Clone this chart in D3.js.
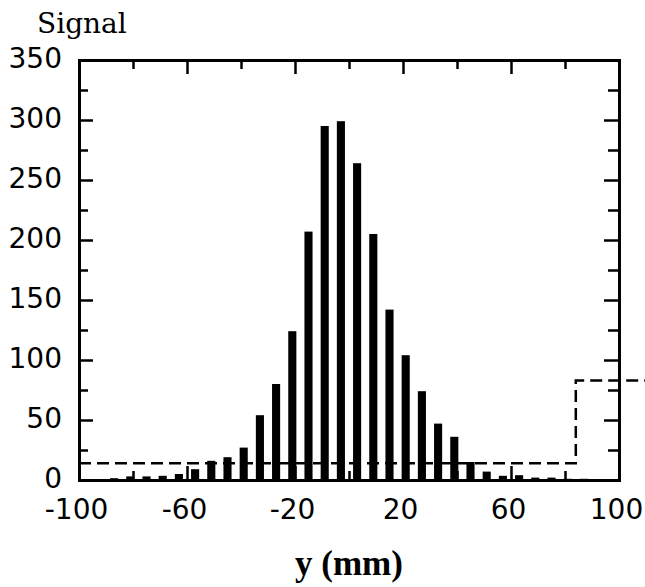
<!DOCTYPE html>
<html>
<head>
<meta charset="utf-8">
<script src="https://cdn.jsdelivr.net/npm/d3@7"></script>
<style>
  body { margin: 0; background: #fff; }
  svg { display: block; }
</style>
</head>
<body>
<div id="chart"></div>
<script>
/* DATA */
const binCenters = [-87, -81, -75, -69, -63, -57, -51, -45, -39, -33, -27, -21, -15, -9, -3,
  3, 9, 15, 21, 27, 33, 39, 45, 51, 57, 63, 69, 75, 81, 87];
const signalCounts = [1.5, 3, 3, 3.5, 5, 9, 16, 19, 27, 54, 80, 124, 207, 295, 299,
  264, 205, 142, 104, 74, 47, 36, 15, 7, 3.5, 4, 2, 2, 1, 1];
// dashed step outline
const stepX = [-100, 84, 84, 110];
const stepY = [14, 14, 83, 83];

const xMajorTicks = [-100, -60, -20, 20, 60, 100];
const xMinorTicks = [-80, -40, 0, 40, 80];
const yMajorTicks = [0, 50, 100, 150, 200, 250, 300, 350];
const yMinorTicks = [25, 75, 125, 175, 225, 275, 325];

/* CONSTANTS */
const width = 645, height = 587;
const margin = { top: 60, right: 26, bottom: 107, left: 79 };
const sansFont = "'DejaVu Sans', sans-serif";

const svg = d3.select("#chart").append("svg")
  .attr("width", width)
  .attr("height", height);

const x = d3.scaleLinear().domain([-100, 100]).range([margin.left, width - margin.right]);
const y = d3.scaleLinear().domain([0, 350]).range([height - margin.bottom, margin.top]);

const barW = x(1.5) - x(-1.5);
const plain = d => String(d); // hyphen-minus, like the original

// bars
svg.append("g")
  .selectAll("rect")
  .data(binCenters.map((c, i) => ({ c, v: signalCounts[i] })))
  .join("rect")
  .attr("x", d => x(d.c) - barW / 2)
  .attr("width", barW)
  .attr("y", d => y(d.v))
  .attr("height", d => y(0) - y(d.v))
  .attr("fill", "#000");

// dashed step line
const line = d3.line().x(d => x(d[0])).y(d => y(d[1]));
svg.append("path")
  .datum(stepX.map((v, i) => [v, stepY[i]]))
  .attr("d", line)
  .attr("fill", "none")
  .attr("stroke", "#000")
  .attr("stroke-width", 2.5)
  .attr("stroke-dasharray", "12,6");

/* AXES */
function styleAxis(g) {
  g.select(".domain").attr("stroke-width", 3).attr("stroke-linecap", "square");
  g.selectAll(".tick line").attr("stroke-width", 2.5);
  g.selectAll("text").attr("font-family", sansFont).attr("font-size", 28).attr("fill", "#000");
}

const bottomY = y(0), topY = y(350), leftX = x(-100), rightX = x(100);

// bottom
svg.append("g").attr("transform", `translate(0,${bottomY})`)
  .call(d3.axisBottom(x).tickValues(xMinorTicks).tickSize(-9).tickSizeOuter(0).tickFormat(""))
  .call(styleAxis);
svg.append("g").attr("transform", `translate(0,${bottomY})`)
  .call(d3.axisBottom(x).tickValues(xMajorTicks).tickSize(-14).tickSizeOuter(0).tickPadding(19).tickFormat(plain))
  .call(styleAxis)
  .call(g => g.selectAll("text").attr("dx", "-3"));

// top
svg.append("g").attr("transform", `translate(0,${topY})`)
  .call(d3.axisTop(x).tickValues(xMinorTicks).tickSize(-9).tickSizeOuter(0).tickFormat(""))
  .call(styleAxis);
svg.append("g").attr("transform", `translate(0,${topY})`)
  .call(d3.axisTop(x).tickValues(xMajorTicks).tickSize(-14).tickSizeOuter(0).tickFormat(""))
  .call(styleAxis);

// left
svg.append("g").attr("transform", `translate(${leftX},0)`)
  .call(d3.axisLeft(y).tickValues(yMinorTicks).tickSize(-9).tickSizeOuter(0).tickFormat(""))
  .call(styleAxis);
svg.append("g").attr("transform", `translate(${leftX},0)`)
  .call(d3.axisLeft(y).tickValues(yMajorTicks).tickSize(-14).tickSizeOuter(0).tickPadding(17).tickFormat(plain))
  .call(styleAxis)
  .call(g => g.selectAll("text").attr("dy", "0.26em"));

// right
svg.append("g").attr("transform", `translate(${rightX},0)`)
  .call(d3.axisRight(y).tickValues(yMinorTicks).tickSize(-11).tickSizeOuter(0).tickFormat(""))
  .call(styleAxis);
svg.append("g").attr("transform", `translate(${rightX},0)`)
  .call(d3.axisRight(y).tickValues(yMajorTicks).tickSize(-15).tickSizeOuter(0).tickFormat(""))
  .call(styleAxis);

/* LABELS */
svg.append("text")
  .attr("x", 37).attr("y", 33)
  .attr("font-family", "'DejaVu Serif', serif")
  .attr("font-size", 28)
  .text("Signal");

svg.append("text")
  .attr("x", (leftX + rightX) / 2).attr("y", 575)
  .attr("text-anchor", "middle")
  .attr("font-family", "'Liberation Serif', 'Times New Roman', serif")
  .attr("font-weight", "bold")
  .attr("font-size", 35)
  .text("y (mm)");
</script>
</body>
</html>
